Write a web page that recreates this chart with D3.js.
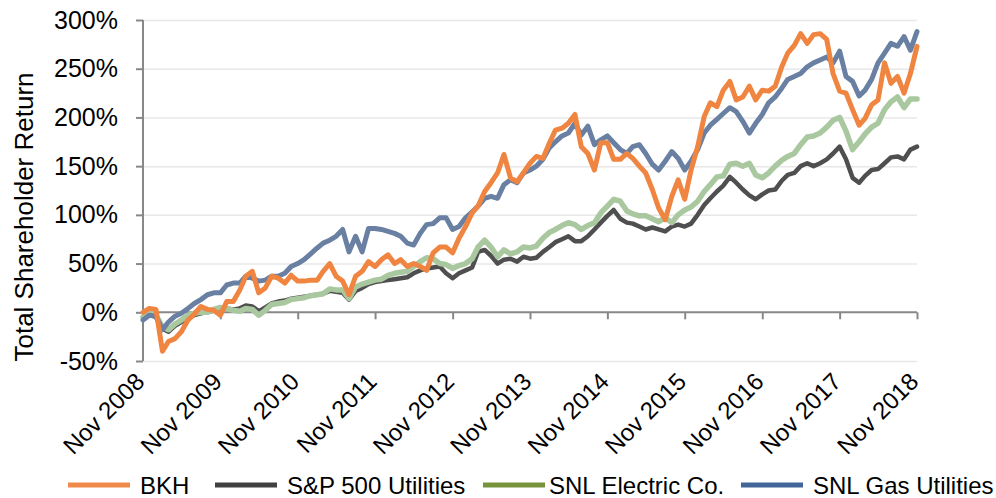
<!DOCTYPE html>
<html>
<head>
<meta charset="utf-8">
<script src="https://cdn.jsdelivr.net/npm/d3@7"></script>
<style>
  body { margin: 0; background: #fff; }
  text { font-family: "Liberation Sans", Arial, sans-serif; fill: #000; }
</style>
</head>
<body>
<div id="chart"></div>
<script>
// monthly readings, Nov 2008 .. Nov 2018 (121 points), total return in %
const bkh = [
  0, 4, 3, -40, -30, -27, -20, -8, -2, 6, 3, 2,
  -3, 11, 11, 23, 37, 42, 20, 25, 37, 35, 30, 38,
  32, 32, 33, 33, 42, 50, 37, 32, 18, 37, 42, 52,
  47, 54, 59, 50, 54, 47, 50, 47, 43, 61, 67, 67,
  61, 76, 88, 102, 109, 124, 133, 143, 162, 138, 134, 143,
  153, 160, 158, 174, 187, 189, 194, 203, 170, 163, 146, 174,
  174, 157, 157, 163, 158, 150, 143, 126, 107, 95, 119, 136,
  116, 146, 170, 201, 215, 211, 228, 237, 218, 221, 232, 218,
  228, 227, 232, 252, 266, 274, 286, 276, 285, 286, 280, 245,
  227, 225, 208, 192, 199, 213, 218, 256, 235, 242, 225, 245,
  273
];
const spUtilities = [
  -5, -2, -5, -17, -20, -14, -10, -6, -3, -1, 0, 2,
  4, 4, 3, 4, 7, 6, 1, 5, 9, 11, 12, 14,
  15, 16, 17, 18, 19, 22, 21, 20, 13, 22, 25, 29,
  31, 32, 33, 34, 35, 36, 40, 43, 45, 46, 47, 40,
  35, 40, 43, 46, 62, 64, 58, 50, 54, 55, 52, 57,
  55, 56, 62, 67, 72, 75, 78, 73, 73, 78, 85, 92,
  99, 105, 96, 92, 91, 88, 85, 87, 85, 83, 88, 90,
  88, 91, 100, 110, 117, 124, 130, 139, 133, 126, 120, 116,
  121, 125, 126, 135, 141, 143, 150, 153, 150, 153, 157, 163,
  170, 157, 138, 133, 140, 146, 147, 153, 159, 160, 157, 167,
  170
];
const snlElectric = [
  -5, 0, -3, -15, -18, -12, -8, -3, -1, 0, 0, 3,
  5, 4, 2, 1, 4, 3, -3, 2, 8, 9, 10, 13,
  14, 15, 17, 18, 19, 24, 23, 23, 14, 26, 29, 31,
  33, 34, 38, 40, 41, 42, 47, 52, 56, 55, 50, 49,
  45, 48, 50, 55, 67, 74, 67, 57, 64, 60, 62, 67,
  66, 68, 76, 82, 85, 89, 92, 90, 85, 89, 92, 102,
  109, 116, 114, 104, 101, 99, 99, 96, 93, 97, 92, 100,
  105, 108, 114, 124, 131, 139, 140, 152, 153, 150, 153, 141,
  138, 143, 150, 156, 160, 163, 172, 180, 181, 184, 190, 197,
  200, 186, 167, 175, 183, 190, 194, 208, 216, 221, 210, 219,
  219
];
const snlGas = [
  -8, -3, -4, -18, -10, -4, -1, 4, 9, 13, 18, 20,
  20, 28, 30, 30, 37, 35, 32, 33, 37, 37, 40, 47,
  50, 54, 60, 66, 71, 74, 78, 85, 62, 78, 62, 86,
  86, 85, 83, 81, 78, 71, 69, 81, 90, 91, 97, 97,
  85, 88, 97, 103, 109, 117, 119, 117, 131, 136, 133, 143,
  146, 150, 157, 169, 175, 181, 184, 194, 182, 191, 172, 177,
  181, 174, 167, 163, 170, 172, 163, 152, 146, 155, 165, 158,
  146, 155, 167, 184, 192, 198, 204, 210, 206, 196, 184, 194,
  203, 215, 221, 230, 239, 242, 245, 252, 256, 259, 262, 256,
  268, 242, 237, 222, 228, 239, 256, 266, 276, 273, 283, 269,
  288
];

const yTicks = [-50, 0, 50, 100, 150, 200, 250, 300];
const xTickLabels = ["Nov 2008", "Nov 2009", "Nov 2010", "Nov 2011", "Nov 2012",
  "Nov 2013", "Nov 2014", "Nov 2015", "Nov 2016", "Nov 2017", "Nov 2018"];
const seriesNames = ["BKH", "S&P 500 Utilities", "SNL Electric Co.", "SNL Gas Utilities"];

const width = 996, height = 498;
const margin = {top: 20, right: 79, bottom: 137, left: 143};

const start = new Date(Date.UTC(2008, 10, 1));
const end = new Date(Date.UTC(2018, 10, 1));
const months = d3.utcMonth.range(start, d3.utcMonth.offset(end, 1));
const tickDates = xTickLabels.map((d, i) => d3.utcYear.offset(start, i));

const x = d3.scaleUtc()
  .domain([start, end])
  .range([margin.left, width - margin.right]);

const y = d3.scaleLinear()
  .domain([-50, 300])
  .range([height - margin.bottom, margin.top]);

const svg = d3.select("#chart").append("svg")
  .attr("width", width)
  .attr("height", height);

// gridlines
svg.append("g")
  .attr("transform", `translate(${margin.left},0)`)
  .call(d3.axisLeft(y).tickValues(yTicks.filter(d => d !== 0))
    .tickSize(-(width - margin.left - margin.right)).tickFormat(""))
  .call(g => g.select(".domain").remove())
  .call(g => g.selectAll("line").attr("stroke", "#e8e8e8").attr("stroke-width", 1.5));

// y axis
svg.append("g")
  .attr("transform", `translate(${margin.left},0)`)
  .call(d3.axisLeft(y).tickValues(yTicks).tickSize(7).tickPadding(18)
    .tickFormat(d => d + "%"))
  .call(g => g.select(".domain").attr("stroke", "#888").attr("stroke-width", 2)
    .attr("d", `M0,${y(300)}V${y(-50)}`))
  .call(g => g.selectAll(".tick line").attr("stroke", "#888").attr("stroke-width", 2))
  .call(g => g.selectAll(".tick text").attr("font-size", "25px")
    .attr("font-family", "'Liberation Sans', Arial, sans-serif").attr("fill", "#000"));

// x axis at 0%
svg.append("g")
  .attr("transform", `translate(0,${y(0)})`)
  .call(d3.axisBottom(x).tickValues(tickDates).tickSize(7).tickFormat(""))
  .call(g => g.select(".domain").attr("stroke", "#888").attr("stroke-width", 2)
    .attr("d", `M${margin.left},0H${width - margin.right}`))
  .call(g => g.selectAll(".tick line").attr("stroke", "#888").attr("stroke-width", 2));

// x tick labels, below the plot
svg.append("g")
  .selectAll("text")
  .data(tickDates)
  .join("text")
    .attr("transform", d => `translate(${x(d) + 3},${y(-50) + 22}) rotate(-45)`)
    .attr("text-anchor", "end")
    .attr("font-size", "24px")
    .text((d, i) => xTickLabels[i]);

// y title
svg.append("text")
  .attr("transform", "translate(33,217) rotate(-90)")
  .attr("text-anchor", "middle")
  .attr("font-size", "26px")
  .text("Total Shareholder Return");

const line = d3.line()
  .x((d, i) => x(months[i]))
  .y(d => y(d));

const plotSeries = [
  {values: spUtilities, color: "#4f4f4f", w: 4.5},
  {values: snlElectric, color: "#a9c89f", w: 5.5},
  {values: snlGas, color: "#6a80a3", w: 5},
  {values: bkh, color: "#ef8540", w: 5}
];

svg.append("g")
  .selectAll("path")
  .data(plotSeries)
  .join("path")
    .attr("d", d => line(d.values))
    .attr("fill", "none")
    .attr("stroke", d => d.color)
    .attr("stroke-width", d => d.w)
    .attr("stroke-linejoin", "round")
    .attr("stroke-linecap", "round");

// legend
const legendColors = ["#ef8a4a", "#404040", "#77933c", "#43669a"];
const legendX = [68, 215, 483, 741];
const legend = svg.append("g")
  .selectAll("g")
  .data(seriesNames)
  .join("g")
    .attr("transform", (d, i) => `translate(${legendX[i]},485)`);

legend.append("line")
  .attr("x1", 0).attr("x2", 62)
  .attr("stroke", (d, i) => legendColors[i])
  .attr("stroke-width", 5);

legend.append("text")
  .attr("x", (d, i) => i === 2 ? 66 : 72)
  .attr("y", 9)
  .attr("font-size", "24px")
  .text(d => d);
</script>
</body>
</html>
